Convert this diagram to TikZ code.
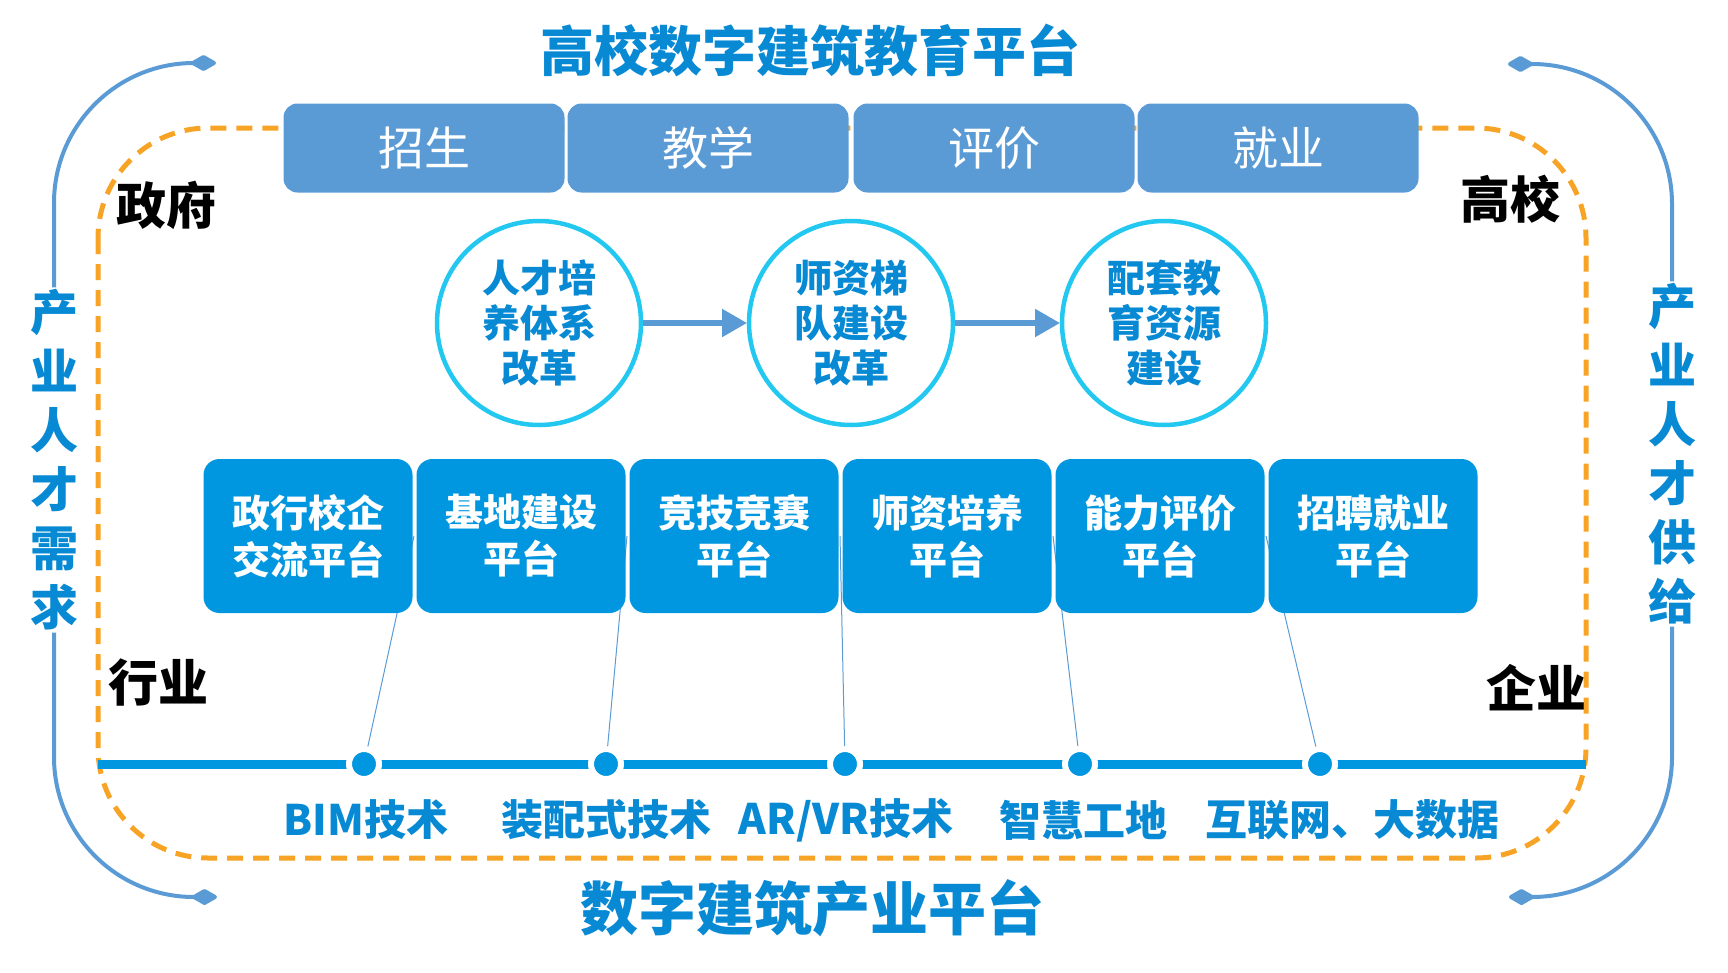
\documentclass[tikz,border=0pt]{standalone}
\usepackage{fontspec}
\setmainfont{Noto Sans CJK SC}
\usepackage{xcolor}
\usepackage{tikz}
\usetikzlibrary{arrows}

\definecolor{titleblue}{RGB}{8,137,212}
\definecolor{boxblue}{RGB}{91,155,213}
\definecolor{platblue}{RGB}{0,150,224}
\definecolor{ringcyan}{RGB}{34,200,240}
\definecolor{dashorange}{RGB}{247,163,37}
\newcommand{\fsize}[2]{\fontsize{#1}{#2}\selectfont}

\begin{document}
\begin{tikzpicture}[x=1pt,y=-1pt,
    topbox/.style={fill=boxblue,rounded corners=14,minimum width=281,minimum height=89,text=white,font=\fsize{46}{52}},
    platbox/.style={fill=platblue,rounded corners=16,minimum width=209,minimum height=154,text=white,align=center,font=\fsize{38}{47}\bfseries},
    ring/.style={circle,draw=ringcyan,line width=4.5,minimum size=204,text=titleblue,align=center,font=\fsize{38}{45}\bfseries},
    tech/.style={text=titleblue,font=\fsize{42}{48}\bfseries},
    actor/.style={font=\fsize{50}{56}\bfseries},
    sidetext/.style={text=titleblue,align=center,inner sep=2,font=\fsize{48}{59}\bfseries},
    sideline/.style={draw=boxblue,line width=4,rounded corners=140}]
  \useasboundingbox (0,0) rectangle (1728,972);

  % titles
  \node[text=titleblue,font=\fsize{54}{60}\bfseries] (edu) at (810,50) {高校数字建筑教育平台};
  \node[text=titleblue,font=\fsize{58}{64}\bfseries] (ind) at (812,908) {数字建筑产业平台};

  % orange frame
  \draw[dashorange,line width=5,dash pattern=on 16 off 10,rounded corners=110] (98,128) rectangle (1586,858);

  % timeline with dots
  \coordinate (tl) at (98,764);
  \coordinate (tr) at (1586,764);
  \draw[platblue,line width=9] (tl) -- (tr);
  \foreach \x [count=\i] in {364,606,845,1080,1320}
    \node[circle,fill=platblue,draw=white,line width=6,inner sep=0,minimum size=30] (d\i) at (\x,764) {};
  \foreach \x [count=\i] in {414,627,840,1053,1266}
    \coordinate (g\i) at (\x,536);
  \foreach \i in {1,...,5}
    \draw[boxblue,line width=1] (d\i) -- (g\i);

  % platforms
  \node[platbox] (p1) at (308,536) {政行校企\\交流平台};
  \node[platbox] (p2) at (521,536) {基地建设\\平台};
  \node[platbox] (p3) at (734,536) {竞技竞赛\\平台};
  \node[platbox] (p4) at (947,536) {师资培养\\平台};
  \node[platbox] (p5) at (1160,536) {能力评价\\平台};
  \node[platbox] (p6) at (1373,536) {招聘就业\\平台};

  % top boxes
  \node[topbox] (t1) at (424,148) {招生};
  \node[topbox] (t2) at (708,148) {教学};
  \node[topbox] (t3) at (994,148) {评价};
  \node[topbox] (t4) at (1278,148) {就业};

  % reforms
  \node[ring] (talent) at (539,323) {人才培\\养体系\\改革};
  \node[ring] (faculty) at (851,323) {师资梯\\队建设\\改革};
  \node[ring] (resource) at (1164,323) {配套教\\育资源\\建设};
  \draw[boxblue,line width=6,-triangle 60] (talent) -- (faculty);
  \draw[boxblue,line width=6,-triangle 60] (faculty) -- (resource);

  % technologies
  \node[tech] (bim) at (366,820) {BIM技术};
  \node[tech] (prefab) at (606,820) {装配式技术};
  \node[tech] (arvr) at (846,820) {AR/VR技术};
  \node[tech] (site) at (1083,820) {智慧工地};
  \node[tech] (net) at (1352,820) {互联网、大数据};

  % actors
  \node[actor] (gov) at (166,205) {政府};
  \node[actor] (uni) at (1510,199) {高校};
  \node[actor] (trade) at (158,682) {行业};
  \node[actor] (firm) at (1536,688) {企业};

  % side arcs
  \node[sidetext] (need) at (54,460) {产\\业\\人\\才\\需\\求};
  \node[sidetext] (supply) at (1672,454) {产\\业\\人\\才\\供\\给};
  \coordinate (nt) at (191,63);
  \coordinate (nb) at (192,897);
  \coordinate (st) at (1533,64);
  \coordinate (sb) at (1534,897);
  \draw[sideline,diamond-] (nt) -| (need.north);
  \draw[sideline,-diamond] (need.south) |- (nb);
  \draw[sideline,diamond-] (st) -| (supply.north);
  \draw[sideline,-diamond] (supply.south) |- (sb);
\end{tikzpicture}
\end{document}
